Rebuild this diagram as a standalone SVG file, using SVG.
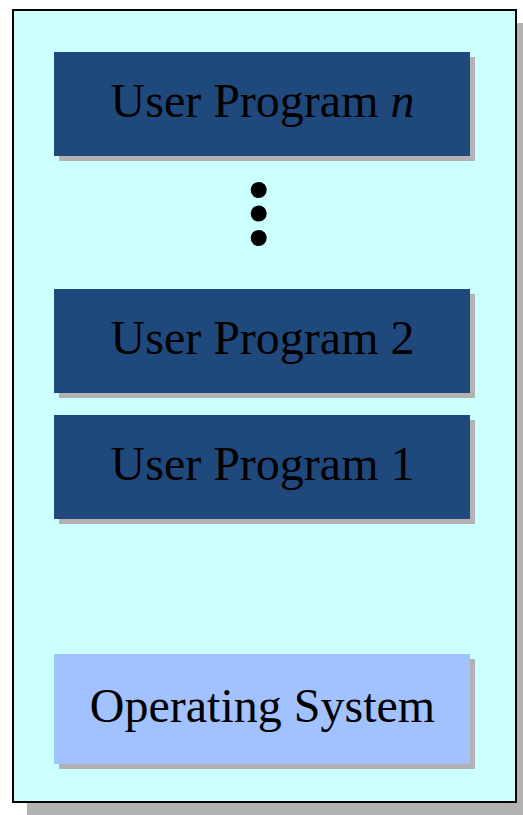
<svg xmlns="http://www.w3.org/2000/svg" width="523" height="815" viewBox="0 0 523 815">
  <style>
    .shadow { fill: #b2b2b2; }
    .frame { fill: #ccffff; stroke: #000000; stroke-width: 2; }
    .prog { fill: #1f497d; }
    .os { fill: #a2c1ff; }
    .label { font-family: "Liberation Serif", "Times New Roman", serif; font-size: 48px; fill: #000000; text-anchor: middle; }
    .dot { fill: #000000; }
  </style>

  <!-- memory frame -->
  <g id="memory">
    <rect class="shadow" x="27" y="23" width="496" height="792"/>
    <rect class="frame" x="13" y="10" width="503" height="792"/>
  </g>

  <g id="user-program-n">
    <rect class="shadow" x="59" y="57" width="416" height="104"/>
    <rect class="prog" x="54" y="52" width="416" height="104"/>
    <text class="label" x="262.5" y="117">User Program <tspan font-style="italic">n</tspan></text>
  </g>

  <g id="ellipsis">
    <circle class="dot" cx="258.7" cy="190" r="8"/>
    <circle class="dot" cx="258.7" cy="213.5" r="8"/>
    <circle class="dot" cx="258.7" cy="238" r="8"/>
  </g>

  <g id="user-program-2">
    <rect class="shadow" x="59" y="294" width="416" height="104"/>
    <rect class="prog" x="54" y="289" width="416" height="104"/>
    <text class="label" x="262.5" y="354">User Program 2</text>
  </g>

  <g id="user-program-1">
    <rect class="shadow" x="59" y="420" width="416" height="104"/>
    <rect class="prog" x="54" y="415" width="416" height="104"/>
    <text class="label" x="262.5" y="480">User Program 1</text>
  </g>

  <g id="operating-system">
    <rect class="shadow" x="59" y="659" width="416" height="110"/>
    <rect class="os" x="54" y="654" width="416" height="110"/>
    <text class="label" x="262.5" y="722">Operating System</text>
  </g>

  <g id="connectors"/>
</svg>
